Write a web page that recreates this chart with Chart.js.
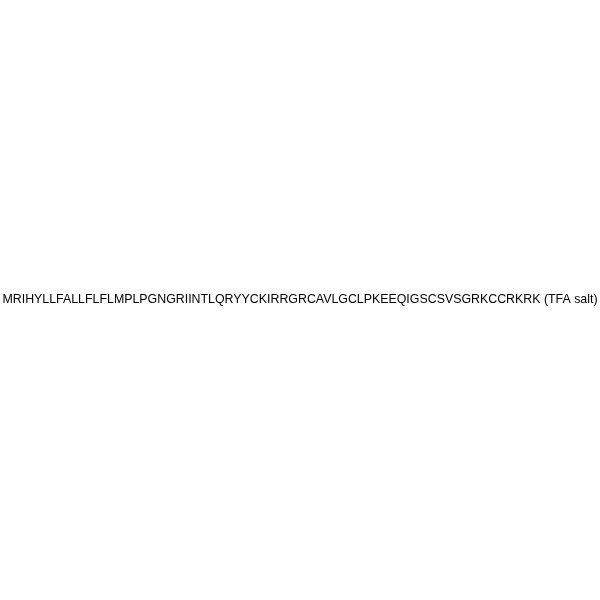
<!DOCTYPE html>
<html>
<head>
<meta charset="utf-8">
<script src="https://cdn.jsdelivr.net/npm/chart.js@4"></script>
<style>
  html, body { margin: 0; padding: 0; background: #fff; }
  #wrap { width: 600px; height: 600px; }
</style>
</head>
<body>
<div id="wrap"><canvas id="chart"></canvas></div>
<script>
const sequence = 'MRIHYLLFALLFLFLMPLPGNGRIINTLQRYYCKIRRGRCAVLGCLPKEEQIGSCSVSGRKCCRKRK';
const suffix = ' (TFA salt)';
const labels = [];
const values = [];

// draws the caption in the middle of the canvas
const captionPlugin = {
    id: 'caption',
    afterDraw(chart) {
        const ctx = chart.ctx;
        const text = sequence + suffix;
        ctx.save();
        ctx.fillStyle = '#000';
        ctx.textAlign = 'center';
        ctx.textBaseline = 'middle';
        let size = 13;
        ctx.font = size + 'px "Liberation Sans", Arial, sans-serif';
        const w = ctx.measureText(text).width;
        size = size * 596 / w;
        ctx.font = size + 'px "Liberation Sans", Arial, sans-serif';
        ctx.fillText(text, chart.width / 2, 300);
        ctx.restore();
    }
};

new Chart(document.getElementById('chart').getContext('2d'), {
    type: 'bar',
    data: { labels: labels, datasets: [{ data: values }] },
    options: {
        responsive: true,
        maintainAspectRatio: false,
        animation: false,
        scales: { x: { display: false }, y: { display: false } },
        plugins: { legend: { display: false }, tooltip: { enabled: false } }
    },
    plugins: [captionPlugin]
});
</script>
</body>
</html>
